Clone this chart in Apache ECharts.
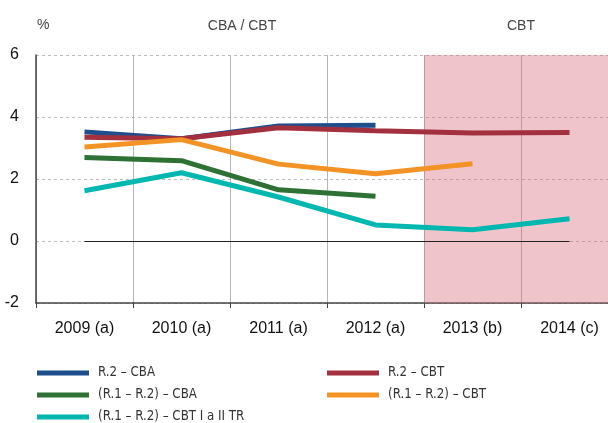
<!DOCTYPE html>
<html>
<head>
<meta charset="utf-8">
<script src="https://cdn.jsdelivr.net/npm/echarts@6/dist/echarts.min.js"></script>
<style>
  html, body { margin: 0; padding: 0; background: #fff; overflow: hidden; }
  #chart { width: 618px; height: 423px; }
</style>
</head>
<body>
<div id="chart"></div>
<script>
// roky a hodnoty (%)
var years = ['2009 (a)', '2010 (a)', '2011 (a)', '2012 (a)', '2013 (b)', '2014 (c)'];

var r2Cba = [3.52, 3.3, 3.71, 3.73, null, null];
var r2Cbt = [3.35, 3.3, 3.65, 3.56, 3.48, 3.5];
var diffCba = [2.69, 2.59, 1.65, 1.44, null, null];
var diffCbt = [3.03, 3.27, 2.48, 2.17, 2.49, null];
var diffCbtTr = [1.62, 2.2, 1.42, 0.52, 0.36, 0.72];

var yTicks = [-2, 0, 2, 4, 6];

var names = [
  'R.2 – CBA',
  'R.2 – CBT',
  '(R.1 – R.2) – CBA',
  '(R.1 – R.2) – CBT',
  '(R.1 – R.2) – CBT I a II TR'
];
var colors = ['#1f4e8c', '#a3303f', '#2e7135', '#f39325', '#00b8b0'];
var values = [r2Cba, r2Cbt, diffCba, diffCbt, diffCbtTr];

var font = 'Liberation Sans, Arial, sans-serif';
var narrow = 'Liberation Sans Narrow, DejaVu Sans Condensed, Liberation Sans, sans-serif';

var myChart = echarts.init(document.getElementById('chart'));

var series = values.map(function (v, i) {
  return {
    name: names[i],
    type: 'line',
    data: v,
    symbol: 'none',
    color: colors[i],
    lineStyle: { width: 5, color: colors[i] },
    z: 3 + i
  };
});

// nulová linie od prvního do posledního roku
series[0].markLine = {
  silent: true,
  symbol: 'none',
  label: { show: false },
  lineStyle: { color: '#222', width: 1, type: 'solid' },
  data: [[{ coord: [years[0], 0] }, { coord: [years[years.length - 1], 0] }]]
};

// růžová oblast pro CBT (2013–2014)
series.push({
  type: 'line',
  xAxisIndex: 1,
  data: [],
  silent: true,
  z: -5,
  markArea: {
    silent: true,
    itemStyle: { color: 'rgba(215,108,125,0.4)' },
    data: [[{ xAxis: 4 }, { xAxis: 6 }]]
  }
});

// legenda: každá položka zvlášť (dva sloupce)
var legendPos = [[37, 366], [327, 366], [37, 388], [327, 388], [37, 410]];
var legends = names.map(function (n, i) {
  return {
    left: legendPos[i][0], top: legendPos[i][1], padding: 0,
    icon: 'rect', itemWidth: 52, itemHeight: 5,
    textStyle: { fontFamily: narrow, fontSize: 13.2, lineHeight: 14, color: '#333', padding: [0, 0, 0, 4] },
    data: [n]
  };
});

var option = {
  animation: false,
  grid: { left: 36, top: 55, right: 0, height: 248 },
  graphic: [
    { type: 'text', left: 37, top: 18, style: { text: '%', font: '14px ' + font, fill: '#444' } },
    { type: 'text', x: 242, y: 26, style: { text: 'CBA / CBT', font: '14px ' + font, fill: '#444', textAlign: 'center', textVerticalAlign: 'middle' } },
    { type: 'text', x: 521, y: 26, style: { text: 'CBT', font: '14px ' + font, fill: '#444', textAlign: 'center', textVerticalAlign: 'middle' } }
  ],
  legend: legends,
  xAxis: [
    {
      type: 'category',
      data: years,
      boundaryGap: true,
      axisLine: { onZero: false, lineStyle: { color: '#444', width: 1.5 } },
      axisTick: { show: true, length: 5, lineStyle: { color: '#444' } },
      axisLabel: { fontFamily: font, fontSize: 16, color: '#111', margin: 18 },
      splitLine: { show: true, lineStyle: { color: '#b5b5b5', width: 1 } }
    },
    { type: 'value', min: 0, max: 6, show: false }
  ],
  yAxis: {
    type: 'value',
    min: yTicks[0],
    max: yTicks[yTicks.length - 1],
    interval: 2,
    axisLine: { show: true, lineStyle: { color: '#444', width: 1.5 } },
    axisTick: { show: false },
    axisLabel: { fontFamily: font, fontSize: 16, color: '#111', margin: 17 },
    splitLine: { show: true, lineStyle: { color: '#bbbbbb', type: [3, 3], width: 1 } }
  },
  series: series
};

myChart.setOption(option);
</script>
</body>
</html>
